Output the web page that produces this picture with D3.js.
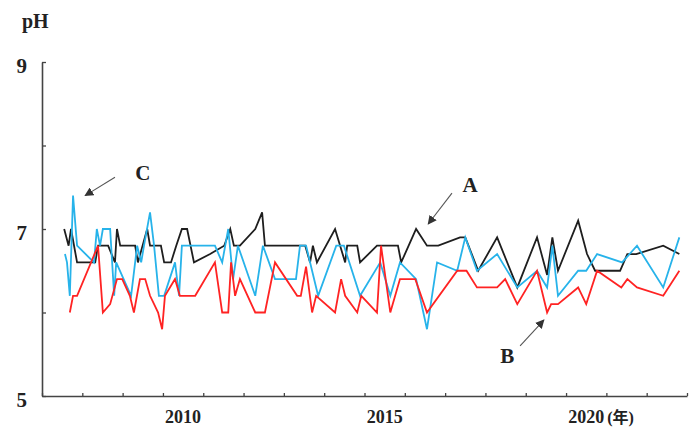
<!DOCTYPE html>
<html>
<head>
<meta charset="utf-8">
<script src="https://cdn.jsdelivr.net/npm/d3@7"></script>
<style>
  html, body { margin: 0; padding: 0; background: #fff; }
  svg { display: block; }
  .lbl { font-family: "Liberation Serif", "Times New Roman", "Noto Sans CJK JP", serif; font-weight: bold; fill: #222; }
</style>
</head>
<body>
<svg id="chart" width="692" height="429"></svg>
<script>
// pH time series for three sites (decimal year, pH)
const yearsA = [2007.55,2007.66,2007.72,2007.87,2008.32,2008.39,2008.64,2008.81,2008.86,2008.94,2009.31,2009.38,2009.61,2009.68,2009.95,2010.03,2010.20,2010.33,2010.47,2010.60,2010.77,2011.17,2011.52,2011.67,2011.76,2011.91,2012.29,2012.46,2012.53,2013.53,2013.65,2013.72,2013.82,2014.27,2014.52,2014.57,2014.82,2014.89,2015.31,2015.83,2015.91,2016.28,2016.55,2016.83,2017.37,2017.50,2017.82,2018.29,2018.79,2019.28,2019.53,2019.66,2019.80,2020.30,2020.52,2020.72,2021.34,2021.52,2021.74,2022.41,2022.81];
const phA    = [7.0,6.8,7.0,6.6,6.6,6.8,6.8,6.6,7.0,6.8,6.8,6.6,7.0,6.8,6.8,6.6,6.6,6.8,7.0,7.0,6.6,6.7,6.8,7.0,6.8,6.8,7.0,7.2,6.8,6.8,6.6,6.8,6.6,7.0,6.6,6.8,6.8,6.6,6.8,6.8,6.6,7.0,6.8,6.8,6.9,6.9,6.5,6.9,6.3,6.9,6.45,6.9,6.5,7.1,6.7,6.5,6.5,6.7,6.7,6.8,6.7];

const yearsB = [2007.69,2007.77,2007.87,2008.39,2008.51,2008.69,2008.86,2008.99,2009.18,2009.28,2009.43,2009.56,2009.68,2009.78,2009.88,2009.98,2010.05,2010.30,2010.42,2010.80,2011.29,2011.47,2011.62,2011.69,2011.79,2011.91,2012.29,2012.53,2012.78,2013.33,2013.42,2013.55,2013.70,2013.80,2014.27,2014.42,2014.52,2014.82,2014.92,2015.31,2015.41,2015.64,2015.88,2016.26,2016.55,2017.30,2017.53,2017.79,2018.29,2018.49,2018.79,2019.28,2019.53,2019.63,2019.80,2020.30,2020.50,2020.77,2021.37,2021.52,2021.76,2022.41,2022.81];
const phB    = [6.0,6.2,6.2,6.8,6.0,6.1,6.4,6.4,6.2,6.0,6.4,6.4,6.2,6.1,6.0,5.8,6.2,6.4,6.2,6.2,6.6,6.0,6.0,6.6,6.2,6.4,6.0,6.0,6.6,6.2,6.2,6.55,6.0,6.2,6.0,6.4,6.2,6.0,6.2,6.0,6.8,6.0,6.4,6.4,6.0,6.5,6.5,6.3,6.3,6.4,6.1,6.5,6.0,6.1,6.1,6.3,6.1,6.5,6.3,6.4,6.3,6.2,6.5];

const yearsC = [2007.57,2007.62,2007.69,2007.77,2007.87,2008.29,2008.36,2008.44,2008.51,2008.69,2008.79,2008.84,2009.21,2009.36,2009.46,2009.53,2009.68,2009.78,2009.90,2010.03,2010.30,2010.40,2010.47,2011.29,2011.47,2011.62,2011.74,2011.86,2012.29,2012.48,2012.78,2013.30,2013.40,2013.55,2013.85,2014.30,2014.49,2014.89,2015.39,2015.64,2015.88,2016.28,2016.55,2016.80,2017.30,2017.50,2017.79,2018.29,2018.79,2019.28,2019.53,2019.66,2019.80,2020.30,2020.50,2020.77,2021.39,2021.76,2022.41,2022.81];
const phC    = [6.7,6.6,6.2,7.4,6.8,6.6,7.0,6.8,7.0,7.0,6.2,6.6,6.2,6.8,6.6,6.8,7.2,6.8,6.2,6.2,6.6,6.2,6.8,6.8,6.6,7.0,6.4,6.8,6.2,6.8,6.4,6.4,6.8,6.8,6.2,6.8,6.8,6.2,6.6,6.2,6.6,6.4,5.8,6.6,6.5,6.9,6.5,6.7,6.3,6.5,6.3,6.8,6.2,6.5,6.5,6.7,6.6,6.8,6.3,6.9];

const yTicks = [5, 6, 7, 8, 9];
const yTickLabels = ["5", "", "7", "", "9"];
const xTickYears = d3.range(2007, 2024);
const xLabelYears = [2010, 2015, 2020];
const xUnit = "(年)";

const svg = d3.select("#chart");
const x = d3.scaleLinear().domain([2007, 2023]).range([42, 687]);
const y = d3.scaleLinear().domain([5, 9]).range([396, 62]);

// axes
const yAxis = svg.append("g").attr("transform", `translate(${x(2007)},0)`)
  .call(d3.axisLeft(y).tickValues(yTicks).tickSizeInner(-4).tickSizeOuter(0)
        .tickFormat((d, i) => yTickLabels[i]));
yAxis.select(".domain").attr("stroke", "#444").attr("stroke-width", 1.6);
yAxis.selectAll(".tick line").attr("stroke", "#444").attr("stroke-width", 1.3);
yAxis.selectAll(".tick text").attr("class", "lbl").attr("x", -15).attr("dy", "0.5em")
  .style("font-size", "21px");

const xAxis = svg.append("g").attr("transform", `translate(0,${y(5)})`)
  .call(d3.axisBottom(x).tickValues(xTickYears).tickSizeInner(-3).tickSizeOuter(0).tickFormat(""));
xAxis.select(".domain").attr("stroke", "#444").attr("stroke-width", 1.6);
xAxis.selectAll(".tick line").attr("stroke", "#444").attr("stroke-width", 1.3);

// year labels sit in the middle of each year's span
svg.selectAll(".xl").data(xLabelYears).join("text")
  .attr("class", "lbl xl").attr("x", d => x(d + 0.5)).attr("y", 423)
  .attr("text-anchor", "middle").style("font-size", "18px").text(d => d);
svg.append("text").attr("class", "lbl")
  .attr("x", x(2020.5) + 21).attr("y", 423).attr("text-anchor", "start")
  .style("font-size", "16px").text(xUnit);

svg.append("text").attr("class", "lbl").attr("x", 22).attr("y", 28)
  .style("font-size", "20px").text("pH");

// series lines
const series = [
  { years: yearsA, ph: phA, color: "#1e1e1e" },
  { years: yearsC, ph: phC, color: "#27b3ea" },
  { years: yearsB, ph: phB, color: "#ff2323" }
];
const line = d3.line().x(d => x(d[0])).y(d => y(d[1]));
series.forEach(s => {
  svg.append("path")
    .datum(d3.zip(s.years, s.ph))
    .attr("fill", "none").attr("stroke", s.color).attr("stroke-width", 1.8)
    .attr("stroke-linejoin", "miter").attr("d", line);
});

// callouts
svg.append("defs").append("marker").attr("id", "ah")
  .attr("viewBox", "0 0 10 10").attr("refX", 9).attr("refY", 5)
  .attr("markerWidth", 9).attr("markerHeight", 9).attr("orient", "auto")
  .attr("markerUnits", "userSpaceOnUse")
  .append("path").attr("d", "M0,0 L10,5 L0,10 z").attr("fill", "#333");

const callouts = [
  { text: "C", tx: 2009.5, ty: 7.68, from: [2008.81, 7.62], to: [2008.07, 7.40] },
  { text: "A", tx: 2017.62, ty: 7.53, from: [2017.17, 7.43], to: [2016.58, 7.06] },
  { text: "B", tx: 2018.54, ty: 5.48, from: [2018.86, 5.60], to: [2019.45, 5.91] }
];
callouts.forEach(c => {
  svg.append("line")
    .attr("x1", x(c.from[0])).attr("y1", y(c.from[1]))
    .attr("x2", x(c.to[0])).attr("y2", y(c.to[1]))
    .attr("stroke", "#555").attr("stroke-width", 1.1).attr("marker-end", "url(#ah)");
  svg.append("text").attr("class", "lbl")
    .attr("x", x(c.tx)).attr("y", y(c.ty)).attr("dy", "0.35em")
    .attr("text-anchor", "middle").style("font-size", "21px").text(c.text);
});
</script>
</body>
</html>
